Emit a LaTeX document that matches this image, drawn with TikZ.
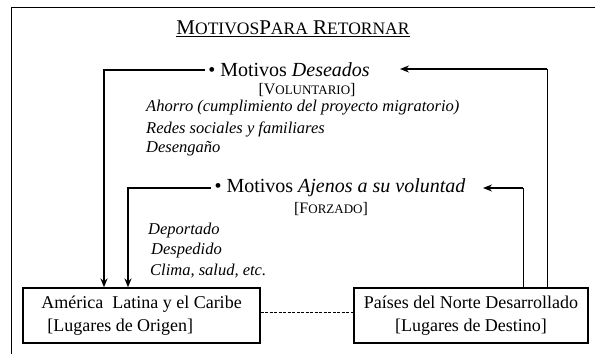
\documentclass[tikz,border=0pt]{standalone}
\usepackage{fontspec}
\setmainfont{Liberation Serif}
\usetikzlibrary{arrows.meta,positioning}

\newcommand{\smc}[1]{{\fontsize{17.5}{17.5}\selectfont #1}}
\newcommand{\smcb}[1]{{\fontsize{13}{13}\selectfont #1}}

\tikzset{
  place/.style={draw,line width=1.2pt,minimum height=55pt,inner xsep=4pt,
    font=\fontsize{18}{23}\selectfont},
  motive/.style={font=\fontsize{20}{20}\selectfont},
  tag/.style={font=\fontsize{16}{16}\selectfont},
  reasons/.style={anchor=west,align=left,inner sep=0pt,
    font=\fontsize{16.5}{20.5}\selectfont\itshape},
  feed/.style={line width=1.6pt,-{Stealth[length=9pt,width=7pt]}},
  riser/.style={line width=0.9pt},
}

\begin{document}
\begin{tikzpicture}[x=1pt,y=-1pt]
  \useasboundingbox (0,0) rectangle (595,354);
  % frame, open on the right
  \draw[line width=1pt] (595,7) -- (11,7) -- (11,354);
  % title
  \node (title) at (293,29) {\underline{\fontsize{21}{21}\selectfont
      M\smc{OTIVOS}P\smc{ARA} R\smc{ETORNAR}}};

  % places
  \node[place,minimum width=237pt,align=left] (amer) at (141.5,315.5)
    {Am\'erica\ \ Latina y el Caribe\\\hspace*{6pt}[Lugares de Origen]};
  \node[place,minimum width=234pt,align=center] (pais) at (471,315.5)
    {Pa\'ises del Norte Desarrollado\\\relax [Lugares de Destino]};
  \draw[line width=0.7pt,dash pattern=on 3pt off 1.5pt]
    ([yshift=3pt]amer.east) -- ([yshift=3pt]pais.east -| pais.west);

  % wished motives
  \node[motive] (des) at (289,70) {\textbullet\ Motivos \textit{Deseados}};
  \node[tag] (vol) at (307,90) {[V\smcb{OLUNTARIO}]};
  \node[reasons] (ahorro) at (146,108) {Ahorro (cumplimiento del proyecto migratorio)};
  \node[reasons] (redes) at (146,129) {Redes sociales y familiares};
  \node[reasons] (desen) at (146,149) {Desenga\~no};
  \coordinate (desL) at (104,70);
  \coordinate (desR) at (547,69);
  \coordinate (desT) at (400,69);
  \draw[feed] (des.west) -- (desL) -- (amer.north -| desL);
  \draw[riser] (pais.north -| desR) -- (desR);
  \draw[feed,line width=1.4pt] (desR) -- (desT);

  % forced motives
  \node[motive] (aje) at (340,188) {\textbullet\ Motivos \textit{Ajenos a su voluntad}};
  \node[tag] (forz) at (331,209) {[F\smcb{ORZADO}]};
  \node[reasons] (depor) at (148,231) {Deportado};
  \node[reasons] (desp) at (151,251) {Despedido};
  \node[reasons] (clima) at (150,271) {Clima, salud, etc.};
  \coordinate (ajeL) at (128,188);
  \coordinate (ajeR) at (523,188);
  \coordinate (ajeT) at (483,188);
  \draw[feed] (aje.west) -- (ajeL) -- (amer.north -| ajeL);
  \draw[riser] (pais.north -| ajeR) -- (ajeR);
  \draw[feed,line width=1.4pt] (ajeR) -- (ajeT);
\end{tikzpicture}
\end{document}
